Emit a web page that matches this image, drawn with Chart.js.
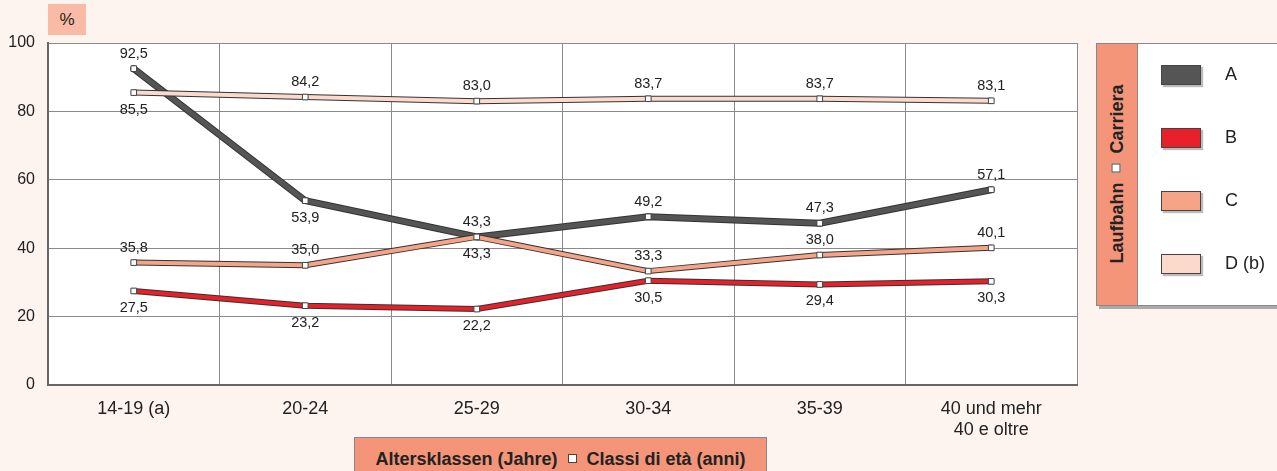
<!DOCTYPE html>
<html>
<head>
<meta charset="utf-8">
<script src="https://cdn.jsdelivr.net/npm/chart.js@4/dist/chart.umd.min.js"></script>
<style>
  body { margin: 0; background: #fdf3ef; font-family: "Liberation Sans", Arial, sans-serif; }
  #wrap { position: relative; width: 1277px; height: 471px; overflow: hidden; }
  #chart { position: absolute; left: 0; top: 0; }
  #pct { position: absolute; left: 48px; top: 4px; width: 38px; height: 31px; background: #f9bba6;
         font-size: 17px; color: #222; text-align: center; line-height: 31px; }
  #legend { position: absolute; left: 1096px; top: 43px; width: 190px; height: 261px; background: #fff;
            border: 1px solid #888; box-shadow: 3px 3px 0 #aaa; }
  #legend .strip { position: absolute; left: 0; top: 0; width: 40px; height: 100%; background: #f4957a;
                   border-right: 1px solid #888; }
  #legend .strip span { position: absolute; left: 20px; top: 130px; transform: translate(-50%, -50%) rotate(-90deg);
                        white-space: nowrap; font-weight: bold; font-size: 18px; color: #222; }
  #legend .item { position: absolute; left: 64px; font-size: 18px; color: #222; }
  #legend .box { display: inline-block; width: 38px; height: 18px; border: 1px solid #444;
                 box-shadow: 2px 2px 1px #bbb; vertical-align: middle; margin-right: 24px; }
  #xtitle { position: absolute; left: 354px; top: 437px; width: 411px; height: 40px; background: #f4957a;
            border: 1px solid #888; text-align: center; font-weight: bold; font-size: 18px; color: #222;
            line-height: 43px; }
  .sq { display: inline-block; width: 7px; height: 7px; background: #fff; border: 1px solid #444;
        vertical-align: middle; margin: 0 5px; position: relative; top: -2px; }
</style>
</head>
<body>
<div id="wrap">
  <canvas id="chart" width="1277" height="471"></canvas>
  <div id="pct">%</div>
  <div id="legend">
    <div class="strip"><span>Laufbahn <i class="sq"></i> Carriera</span></div>
  </div>
  <div id="xtitle">Altersklassen (Jahre) <i class="sq"></i> Classi di età (anni)</div>
</div>
<script>
// Altersklassen / Classi di età
const categories = ["14-19 (a)", "20-24", "25-29", "30-34", "35-39", ["40 und mehr", "40 e oltre"]];

// Werte in %
const seriesNames = ["A", "B", "C", "D (b)"];
const valuesA = [92.5, 53.9, 43.3, 49.2, 47.3, 57.1];
const valuesB = [27.5, 23.2, 22.2, 30.5, 29.4, 30.3];
const valuesC = [35.8, 35.0, 43.3, 33.3, 38.0, 40.1];
const valuesD = [85.5, 84.2, 83.0, 83.7, 83.7, 83.1];

const yTicks = [0, 20, 40, 60, 80, 100];

// Farben der Linien
const colors = ["#555555", "#e8202a", "#f5a488", "#fbd9cb"];
const allValues = [valuesA, valuesB, valuesC, valuesD];

// Beschriftung über (u) oder unter (d) dem Punkt
const labelPlace = [
  ["u", "d", "u", "u", "u", "u"],
  ["d", "d", "d", "d", "d", "d"],
  ["u", "u", "d", "u", "u", "u"],
  ["d", "u", "u", "u", "u", "u"],
];

// Legende aufbauen
const legend = document.getElementById("legend");
seriesNames.forEach((name, i) => {
  const item = document.createElement("div");
  item.className = "item";
  item.style.top = (20 + i * 63) + "px";
  item.innerHTML = '<span class="box" style="background:' + colors[i] + '"></span>' + name;
  legend.appendChild(item);
});

// Jede Linie besteht aus einer dunklen Kontur und einer farbigen Füllung
const datasets = [];
allValues.forEach((vals, i) => {
  const order = (3 - i) * 2;
  datasets.push({
    data: vals,
    borderColor: "#333333",
    borderWidth: i === 0 ? 7 : 6,
    pointRadius: 0,
    order: order + 1,
    isOutline: true,
  });
  datasets.push({
    data: vals,
    borderColor: colors[i],
    borderWidth: i === 0 ? 5 : 4,
    pointStyle: "rect",
    pointRadius: 4,
    pointBackgroundColor: "#ffffff",
    pointBorderColor: "#444444",
    pointBorderWidth: 1,
    order: order,
    seriesIndex: i,
  });
});

// Weißer Hintergrund im Diagrammbereich
const plotBackground = {
  id: "plotBackground",
  beforeDraw(chart) {
    const { ctx, chartArea: a } = chart;
    ctx.save();
    ctx.fillStyle = "#ffffff";
    ctx.fillRect(a.left, a.top, a.right - a.left, a.bottom - a.top);
    ctx.restore();
  },
};

// Datenbeschriftungen mit Komma
const valueLabels = {
  id: "valueLabels",
  afterDraw(chart) {
    const ctx = chart.ctx;
    ctx.save();
    ctx.font = "14.5px 'Liberation Sans', Arial, sans-serif";
    ctx.fillStyle = "#222222";
    ctx.textAlign = "center";
    ctx.textBaseline = "middle";
    chart.data.datasets.forEach((ds, di) => {
      if (ds.isOutline) return;
      const meta = chart.getDatasetMeta(di);
      meta.data.forEach((pt, j) => {
        const up = labelPlace[ds.seriesIndex][j] === "u";
        const txt = ds.data[j].toFixed(1).replace(".", ",");
        ctx.fillText(txt, pt.x, up ? pt.y - 15 : pt.y + 17);
      });
    });
    ctx.restore();
  },
};

new Chart(document.getElementById("chart"), {
  type: "line",
  data: { labels: categories, datasets: datasets },
  plugins: [plotBackground, valueLabels],
  options: {
    responsive: false,
    animation: false,
    layout: { padding: { left: 0, top: 43, right: 200, bottom: 26 } },
    elements: { line: { tension: 0, borderJoinStyle: "round", borderCapStyle: "round" } },
    plugins: { legend: { display: false }, tooltip: { enabled: false } },
    scales: {
      x: {
        offset: true,
        grid: { offset: true, color: "#8a8a8a", drawTicks: false },
        border: { color: "#666666", width: 2 },
        ticks: { color: "#222222", font: { size: 18, family: "'Liberation Sans', Arial" }, padding: 13, maxRotation: 0 },
        afterFit: (s) => { s.height = 60; },
      },
      y: {
        min: 0,
        max: 100,
        afterBuildTicks: (s) => { s.ticks = yTicks.map((v) => ({ value: v })); },
        grid: { color: "#8a8a8a", drawTicks: false },
        border: { color: "#666666", width: 2 },
        ticks: { color: "#222222", font: { size: 16, family: "'Liberation Sans', Arial" }, padding: 13 },
        afterFit: (s) => { s.width = 48; },
      },
    },
  },
});
</script>
</body>
</html>
